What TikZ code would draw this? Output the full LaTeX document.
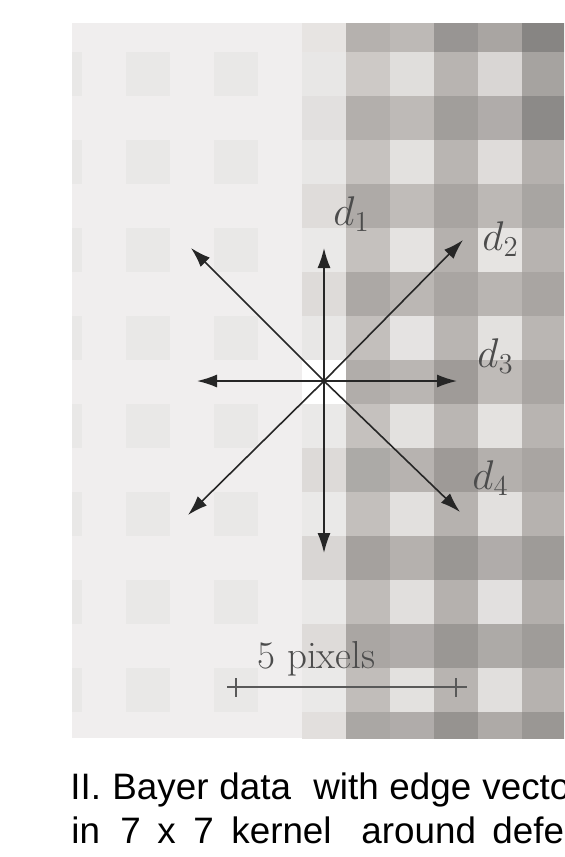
\documentclass[tikz,border=0pt]{standalone}
\usepackage{fontspec}
\usetikzlibrary{arrows.meta}
\newfontfamily\capfont{Liberation Sans}
\definecolor{basec}{HTML}{F0EEEE}
\definecolor{faintc}{HTML}{E9E8E7}
\newcommand\cellrow[2]{%
  \foreach \hx [count=\ci from 6] in {#2}{%
    \edef\tmpdef{\noexpand\definecolor{cellc}{HTML}{\hx}}\tmpdef
    \fill[cellc] ({302+44*(\ci-6)},{360+44*(#1-8)}) rectangle ++(44,44);}}
\begin{document}
\begin{tikzpicture}[x=0.5pt,y=-0.5pt,
  arr/.style={draw=black!85, line width=0.8pt, -{Latex[length=10pt,width=6.5pt]}},
  bar/.style={draw=black!65, line width=0.9pt},
  lbl/.style={anchor=base west, inner sep=0pt, text=black!70, font=\fontsize{20}{24}\selectfont},
  captext/.style={anchor=base west, inner sep=0pt, text=black, font=\capfont\fontsize{18.4}{22}\selectfont}]
\useasboundingbox (0,0) rectangle (564,857);
\fill[white] (0,0) rectangle (564,857);
\begin{scope}
  \clip (72,23) rectangle (564,738);
  \fill[basec] (72,23) rectangle (564,738);
  \foreach \r in {1,3,...,15}
    \foreach \c in {0,2,4}
      \fill[faintc] ({38+44*\c},{8+44*\r}) rectangle ++(44,44);
  \cellrow{0}{E7E4E2,B5B1AE,BDB9B6,989593,A9A5A2,878583}
  \cellrow{1}{E8E7E6,CDC9C6,E0DEDC,B8B4B1,D9D6D4,A6A3A0}
  \cellrow{2}{E2E0DF,B3AFAC,BEBAB7,A19E9B,B0ACAA,8C8A88}
  \cellrow{3}{E8E7E6,C6C2BF,E3E1DF,B9B5B2,DFDCDA,B5B1AE}
  \cellrow{4}{DFDCDA,AEAAA7,C0BCB9,A8A4A1,BCB8B5,A8A5A2}
  \cellrow{5}{EAE9E8,C5C1BE,E5E3E1,B5B1AE,E6E4E2,B7B3B0}
  \cellrow{6}{DEDBD9,ACA8A5,BBB7B4,A9A5A2,B9B5B2,A9A5A2}
  \cellrow{7}{E8E7E6,C3BFBC,E5E3E2,B9B5B2,E3E1DF,BAB6B3}
  \cellrow{8}{FFFFFF,B1ADAA,BAB6B3,9F9B98,BFBBB8,A9A5A2}
  \cellrow{9}{EAE9E8,C5C1BE,E3E1DF,BAB6B3,E4E2E0,B8B4B1}
  \cellrow{10}{DDDAD8,ACAAA7,B7B3B0,9E9A97,B4B0AD,A9A5A2}
  \cellrow{11}{EAE9E8,C3BFBC,E2E0DE,B6B2AF,E2E0DE,B6B2AF}
  \cellrow{12}{D9D6D4,A5A19E,B5B1AE,9A9794,B0ACAA,9E9B98}
  \cellrow{13}{EAE9E8,C0BCB9,E1DFDD,B5B1AE,E2E0DF,B3AFAC}
  \cellrow{14}{DEDBD9,AAA6A3,B0ACAA,9A9794,ADAAA7,9F9C99}
  \cellrow{15}{EAE9E8,C1BDBA,E3E1DF,B8B4B1,E1DFDD,B6B2AF}
  \cellrow{16}{E2DFDD,AAA7A4,B0ACAA,969390,AEAAA7,9A9794}
\end{scope}
% edge vectors
\coordinate (O) at (324,381);
\coordinate (tU) at (324,248);
\coordinate (tD) at (324,553);
\coordinate (tL) at (197,381);
\coordinate (tR) at (457,381);
\coordinate (tUL) at (191,248);
\coordinate (tUR) at (463,240);
\coordinate (tDL) at (188,515);
\coordinate (tDR) at (460,512);
\foreach \t in {tU,tD,tL,tR,tUL,tUR,tDL,tDR}
  \draw[arr] (O) -- (\t);
\node[lbl] (d1) at (333,225) {$d_1$};
\node[lbl] (d2) at (482,250) {$d_2$};
\node[lbl] (d3) at (477,367) {$d_3$};
\node[lbl] (d4) at (472,489) {$d_4$};
% scale bar
\coordinate (sL) at (227,687);
\coordinate (sR) at (467,687);
\coordinate (k1a) at (236,678);
\coordinate (k1b) at (236,697);
\coordinate (k2a) at (456,678);
\coordinate (k2b) at (456,697);
\draw[bar] (sL) -- (sR);
\draw[bar] (k1a) -- (k1b);
\draw[bar] (k2a) -- (k2b);
\node[lbl, font=\fontsize{19.5}{23}\selectfont] (scale) at (257,668) {5 pixels};
% caption
\begin{scope}
  \clip (0,0) rectangle (564,857);
  \node[captext] (a1) at (70,799) {II.};
  \node[captext] (a2) at (112,799) {Bayer};
  \node[captext] (a3) at (219,799) {data};
  \node[captext] (a4) at (313,799) {with};
  \node[captext] (a5) at (389,799) {edge};
  \node[captext] (a6) at (482,799) {vectors};
  \node[captext] (b1) at (71,843) {in};
  \node[captext] (b2) at (120,843) {7};
  \node[captext] (b3) at (157,843) {x};
  \node[captext] (b4) at (193,843) {7};
  \node[captext] (b5) at (231,843) {kernel};
  \node[captext] (b6) at (361,843) {around};
  \node[captext] (b7) at (492,843) {defect};
\end{scope}
\end{tikzpicture}
\end{document}
